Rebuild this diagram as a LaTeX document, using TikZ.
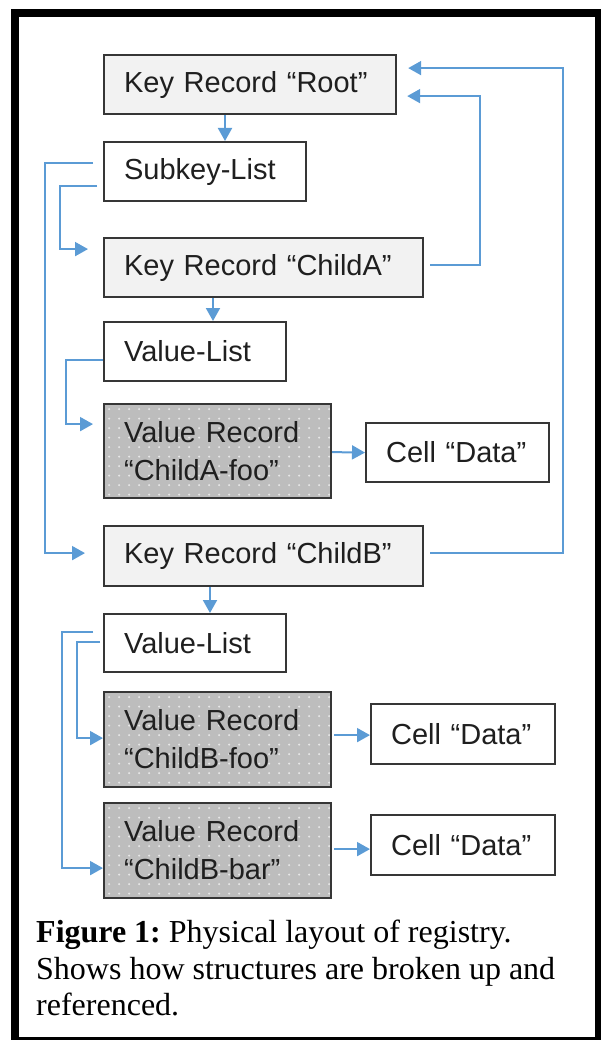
\documentclass[tikz,border=0pt]{standalone}
\usepackage{fontspec}
\setmainfont{Liberation Serif}
\newfontfamily\arialf{Liberation Sans}
\usetikzlibrary{arrows.meta,calc}
\definecolor{conn}{HTML}{5B9BD5}
\definecolor{keyfill}{HTML}{F2F2F2}
\definecolor{vrfill}{HTML}{BDBDBD}
\definecolor{dotc}{HTML}{E6E6E6}
\definecolor{edge}{HTML}{363636}
\tikzset{
  box/.style={draw=edge, line width=2.2pt, inner ysep=0pt, inner xsep=20pt, anchor=north west,
    align=left, font=\arialf\fontsize{29}{38}\selectfont, text=black!88},
  keybox/.style={box, fill=keyfill},
  plainbox/.style={box, fill=white},
  vrbox/.style={box, fill=vrfill, path picture={
    \foreach \i in {0,...,23}{\foreach \j in {0,...,10}{
      \fill[dotc] ([shift={(5+10*\i,5+9.5*\j)}]path picture bounding box.north west) circle (1.2);}}}},
  conn/.style={draw=conn, line width=2pt, -{Triangle[length=13pt,width=14pt]}},
}
\begin{document}
\begin{tikzpicture}[x=1pt,y=-1pt]
\useasboundingbox (0,0) rectangle (601,1040);
% frame
\draw[line width=8pt] (15,13) rectangle (599,1041);
% boxes
\node[keybox, text width=252pt, minimum height=59pt] (root) at (103,54) {Key Record “Root”};
\node[plainbox, text width=162pt, minimum height=59pt] (sub) at (103,141) {Subkey-List};
\node[keybox, text width=279pt, minimum height=59pt] (childA) at (103,237) {Key Record “ChildA”};
\node[plainbox, text width=142pt, minimum height=59pt] (vlA) at (103,321) {Value-List};
\node[vrbox, text width=187pt, minimum height=94pt] (vrA) at (103,403) {Value Record\\“ChildA-foo”};
\node[plainbox, text width=143pt, minimum height=59pt] (cellA) at (365,422) {Cell “Data”};
\node[keybox, text width=279pt, minimum height=60pt] (childB) at (103,525) {Key Record “ChildB”};
\node[plainbox, text width=142pt, minimum height=58pt] (vlB) at (103,613) {Value-List};
\node[vrbox, text width=187pt, minimum height=95pt] (vrB1) at (103,691) {Value Record\\“ChildB-foo”};
\node[plainbox, text width=144pt, minimum height=60pt] (cellB1) at (370,703) {Cell “Data”};
\node[vrbox, text width=187pt, minimum height=95pt] (vrB2) at (103,802) {Value Record\\“ChildB-bar”};
\node[plainbox, text width=144pt, minimum height=60pt] (cellB2) at (370,814) {Cell “Data”};
% connectors
\draw[conn] (225,0 |- root.south) -- (225,0 |- sub.north);
\draw[conn] ([xshift=-10pt,yshift=8.5pt]sub.west) -| ([xshift=-58pt,yshift=3pt]childB.west) -- ([xshift=-18pt,yshift=3pt]childB.west);
\draw[conn] ([xshift=-6pt,yshift=-14.5pt]sub.west) -| ([xshift=-43pt,yshift=18.5pt]childA.west) -- ([xshift=-15pt,yshift=18.5pt]childA.west);
\draw[conn] ([xshift=6pt,yshift=2.5pt]childA.east) -| ([xshift=83pt,yshift=-11.5pt]root.east) -- ([xshift=10pt,yshift=-11.5pt]root.east);
\draw[conn] ([xshift=6pt,yshift=3pt]childB.east) -| ([xshift=166pt,yshift=16.5pt]root.east) -- ([xshift=11pt,yshift=16.5pt]root.east);
\draw[conn] (213,0 |- childA.south) -- (213,0 |- vlA.north);
\draw[conn] ([yshift=-8.5pt]vlA.west) -| ([xshift=-37pt,yshift=27pt]vrA.west) -- ([xshift=-10pt,yshift=27pt]vrA.west);
\draw[conn] ([yshift=-1pt]vrA.east) -- ([yshift=0pt]cellA.west);
\draw[conn] (210,0 |- childB.south) -- (210,0 |- vlB.north);
\draw[conn] ([xshift=-10pt,yshift=11pt]vlB.west) -| ([xshift=-41pt,yshift=-17.5pt]vrB2.west) -- ([yshift=-17.5pt]vrB2.west);
\draw[conn] ([xshift=-3pt,yshift=1pt]vlB.west) -| ([xshift=-26pt,yshift=1.5pt]vrB1.west) -- ([yshift=1.5pt]vrB1.west);
\draw[conn] ([xshift=2pt,yshift=4.5pt]vrB1.east) -- ([yshift=-1pt]cellB1.west);
\draw[conn] ([xshift=2pt,yshift=1.5pt]vrB2.east) -- ([yshift=-4pt]cellB2.west);
% caption
\node[anchor=north west, inner sep=0pt, align=left, font=\frenchspacing\fontsize{32}{36.5}\selectfont] (cap) at (36,920)
  {\textbf{Figure 1:} Physical layout of registry.\\Shows how structures are broken up and\\referenced.};
\end{tikzpicture}
\end{document}
